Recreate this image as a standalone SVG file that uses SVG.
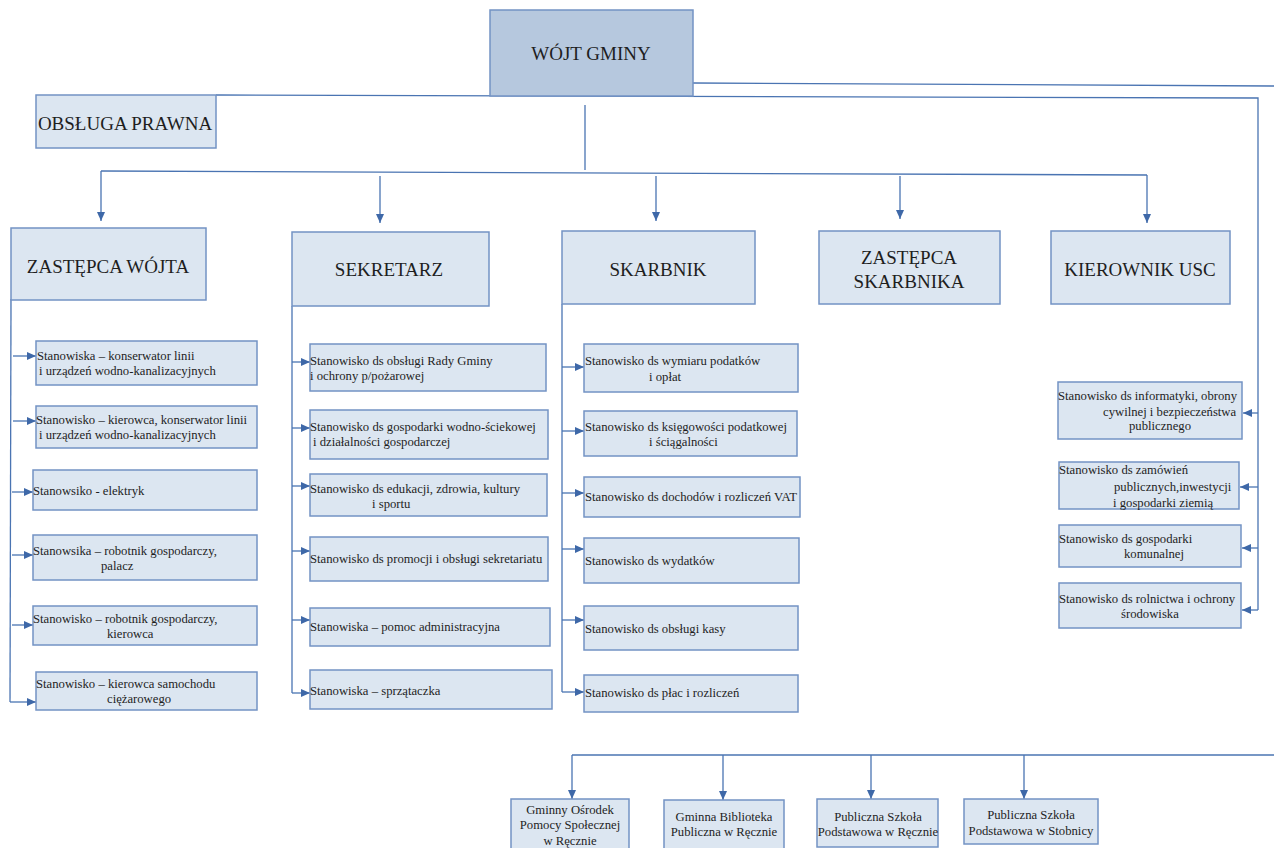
<svg xmlns="http://www.w3.org/2000/svg" width="1274" height="848" viewBox="0 0 1274 848">
<style>
.b{fill:#dce6f1;stroke:#7393c4;stroke-width:1.5}
.bw{fill:#b6c8de;stroke:#7393c4;stroke-width:1.5}
.t{font-family:"Liberation Serif","Times New Roman",serif;font-size:12.7px;fill:#1e1e1e}
.T{font-family:"Liberation Serif","Times New Roman",serif;font-size:19px;fill:#1e1e1e;text-anchor:middle}
.c{text-anchor:middle}
.l{fill:none;stroke:#4a74b2;stroke-width:1.3}
.a{fill:none;stroke:#4a74b2;stroke-width:1.3;marker-end:url(#ar)}
</style>
<defs>
<marker id="ar" markerUnits="userSpaceOnUse" markerWidth="10" markerHeight="10" refX="9" refY="5" orient="auto">
<path d="M0,1 L9,5 L0,9 Z" fill="#3e68a8"/>
</marker>
</defs>
<rect width="1274" height="848" fill="#ffffff"/>

<g id="connectors">
<!-- top -->
<path class="l" d="M693,83 L1274,86"/>
<path class="l" d="M216,95 L1258,98 L1258,610"/>
<path class="l" d="M585,105 L585,170"/>
<path class="l" d="M101,171 L1147,175"/>
<path class="a" d="M101,171 L101,221"/>
<path class="a" d="M380,176 L380,223"/>
<path class="a" d="M656,176 L656,221"/>
<path class="a" d="M900,176 L900,219"/>
<path class="a" d="M1147,175 L1147,223"/>
<!-- right -->
<path class="a" d="M1258,413 L1243,413"/>
<path class="a" d="M1258,487 L1240,487"/>
<path class="a" d="M1258,548 L1242,548"/>
<path class="a" d="M1258,610 L1242,610"/>
<!-- left column -->
<path class="l" d="M11,299 L10,702"/>
<path class="a" d="M13,356 L36,356"/>
<path class="a" d="M13,421 L36,421"/>
<path class="a" d="M12,492 L33,492"/>
<path class="a" d="M12,555 L33,555"/>
<path class="a" d="M12,625 L33,625"/>
<path class="a" d="M10,702 L36,702"/>
<!-- sekretarz -->
<path class="l" d="M292,306 L292,693"/>
<path class="a" d="M292,362 L310,362"/>
<path class="a" d="M292,428 L310,428"/>
<path class="a" d="M292,486 L310,486"/>
<path class="a" d="M292,551 L310,551"/>
<path class="a" d="M292,620 L310,620"/>
<path class="a" d="M292,693 L310,693"/>
<!-- skarbnik -->
<path class="l" d="M562,304 L562,692"/>
<path class="a" d="M562,367 L584,367"/>
<path class="a" d="M562,431 L584,431"/>
<path class="a" d="M562,493 L584,493"/>
<path class="a" d="M562,549 L584,549"/>
<path class="a" d="M562,620 L584,620"/>
<path class="a" d="M562,692 L584,692"/>
<!-- bottom -->
<path class="l" d="M572,755 L1274,755"/>
<path class="a" d="M572,755 L572,799"/>
<path class="a" d="M723,755 L723,800"/>
<path class="a" d="M871,755 L871,799"/>
<path class="a" d="M1024,755 L1024,799"/>
</g>

<g id="wojt"><rect class="bw" x="490" y="10" width="203" height="86"/><text class="T" x="591" y="60">WÓJT GMINY</text></g>
<g id="obsluga"><rect class="b" x="36" y="95" width="180" height="53"/><text class="T" x="125" y="130">OBSŁUGA PRAWNA</text></g>

<g id="zastepca-wojta"><rect class="b" x="11" y="228" width="195" height="72"/><text class="T" x="108" y="273">ZASTĘPCA WÓJTA</text></g>
<g id="sekretarz"><rect class="b" x="292" y="232" width="197" height="74"/><text class="T" x="389" y="276">SEKRETARZ</text></g>
<g id="skarbnik"><rect class="b" x="562" y="231" width="193" height="73"/><text class="T" x="658" y="276">SKARBNIK</text></g>
<g id="zastepca-skarbnika"><rect class="b" x="819" y="231" width="181" height="73"/><text class="T" x="909" y="264">ZASTĘPCA</text><text class="T" x="909" y="288">SKARBNIKA</text></g>
<g id="kierownik-usc"><rect class="b" x="1051" y="231" width="179" height="73"/><text class="T" x="1140" y="276">KIEROWNIK USC</text></g>

<!-- left column -->
<g id="w1"><rect class="b" x="36" y="341" width="221" height="44"/><text class="t" x="37" y="360">Stanowiska – konserwator linii</text><text class="t" x="39" y="375">i urządzeń wodno-kanalizacyjnych</text></g>
<g id="w2"><rect class="b" x="36" y="406" width="221" height="42"/><text class="t" x="36" y="424">Stanowisko – kierowca, konserwator linii</text><text class="t" x="39" y="439">i urządzeń wodno-kanalizacyjnych</text></g>
<g id="w3"><rect class="b" x="33" y="470" width="224" height="40"/><text class="t" x="33" y="495">Stanowsiko - elektryk</text></g>
<g id="w4"><rect class="b" x="33" y="535" width="224" height="45"/><text class="t" x="33" y="555">Stanowsika – robotnik gospodarczy,</text><text class="t" x="101" y="570">palacz</text></g>
<g id="w5"><rect class="b" x="33" y="606" width="224" height="39"/><text class="t" x="33" y="623">Stanowisko – robotnik gospodarczy,</text><text class="t" x="107" y="638">kierowca</text></g>
<g id="w6"><rect class="b" x="36" y="672" width="221" height="38"/><text class="t" x="36" y="688">Stanowisko – kierowca samochodu</text><text class="t" x="107" y="703">ciężarowego</text></g>

<!-- sekretarz column -->
<g id="s1"><rect class="b" x="310" y="344" width="236" height="47"/><text class="t" x="310" y="365">Stanowisko ds obsługi Rady Gminy</text><text class="t" x="310" y="380">i ochrony p/pożarowej</text></g>
<g id="s2"><rect class="b" x="310" y="410" width="238" height="49"/><text class="t" x="310" y="431">Stanowisko ds gospodarki wodno-ściekowej</text><text class="t" x="313" y="446">i działalności gospodarczej</text></g>
<g id="s3"><rect class="b" x="310" y="474" width="237" height="42"/><text class="t" x="310" y="493">Stanowisko ds edukacji, zdrowia, kultury</text><text class="t" x="372" y="508">i sportu</text></g>
<g id="s4"><rect class="b" x="310" y="537" width="238" height="44"/><text class="t" x="310" y="563">Stanowisko ds promocji i obsługi sekretariatu</text></g>
<g id="s5"><rect class="b" x="310" y="608" width="240" height="38"/><text class="t" x="310" y="631">Stanowiska – pomoc administracyjna</text></g>
<g id="s6"><rect class="b" x="310" y="670" width="242" height="39"/><text class="t" x="310" y="695">Stanowiska – sprzątaczka</text></g>

<!-- skarbnik column -->
<g id="k1"><rect class="b" x="584" y="344" width="214" height="48"/><text class="t" x="585" y="365">Stanowisko ds wymiaru podatków</text><text class="t" x="649" y="381">i opłat</text></g>
<g id="k2"><rect class="b" x="584" y="411" width="213" height="45"/><text class="t" x="585" y="431">Stanowisko ds księgowości podatkowej</text><text class="t" x="649" y="446">i ściągalności</text></g>
<g id="k3"><rect class="b" x="584" y="477" width="216" height="40"/><text class="t" x="585" y="501">Stanowisko ds dochodów i rozliczeń VAT</text></g>
<g id="k4"><rect class="b" x="584" y="538" width="215" height="45"/><text class="t" x="585" y="565">Stanowisko ds wydatków</text></g>
<g id="k5"><rect class="b" x="584" y="606" width="214" height="44"/><text class="t" x="585" y="633">Stanowisko ds obsługi kasy</text></g>
<g id="k6"><rect class="b" x="584" y="675" width="214" height="37"/><text class="t" x="585" y="697">Stanowisko ds płac i rozliczeń</text></g>

<!-- right column -->
<g id="r1"><rect class="b" x="1058" y="382" width="184" height="57"/><text class="t" x="1058" y="400">Stanowisko ds informatyki, obrony</text><text class="t" x="1103" y="416">cywilnej i bezpieczeństwa</text><text class="t" x="1129" y="430">publicznego</text></g>
<g id="r2"><rect class="b" x="1059" y="462" width="180" height="47"/><text class="t" x="1059" y="474">Stanowisko ds zamówień</text><text class="t" x="1114" y="491">publicznych,inwestycji</text><text class="t" x="1113" y="507">i gospodarki ziemią</text></g>
<g id="r3"><rect class="b" x="1059" y="525" width="182" height="42"/><text class="t" x="1059" y="543">Stanowisko ds gospodarki</text><text class="t" x="1124" y="558">komunalnej</text></g>
<g id="r4"><rect class="b" x="1059" y="583" width="182" height="45"/><text class="t" x="1059" y="603">Stanowisko ds rolnictwa i ochrony</text><text class="t" x="1121" y="618">środowiska</text></g>

<!-- bottom -->
<g id="b1"><rect class="b" x="511" y="799" width="118" height="52"/><text class="t c" x="570" y="814">Gminny Ośrodek</text><text class="t c" x="570" y="829">Pomocy Społecznej</text><text class="t c" x="570" y="845">w Ręcznie</text></g>
<g id="b2"><rect class="b" x="664" y="800" width="120" height="51"/><text class="t c" x="724" y="821">Gminna Biblioteka</text><text class="t c" x="724" y="836">Publiczna w Ręcznie</text></g>
<g id="b3"><rect class="b" x="817" y="799" width="121" height="48"/><text class="t c" x="878" y="821">Publiczna Szkoła</text><text class="t c" x="878" y="836">Podstawowa w Ręcznie</text></g>
<g id="b4"><rect class="b" x="964" y="799" width="134" height="45"/><text class="t c" x="1031" y="819">Publiczna Szkoła</text><text class="t c" x="1031" y="835">Podstawowa w Stobnicy</text></g>
</svg>
